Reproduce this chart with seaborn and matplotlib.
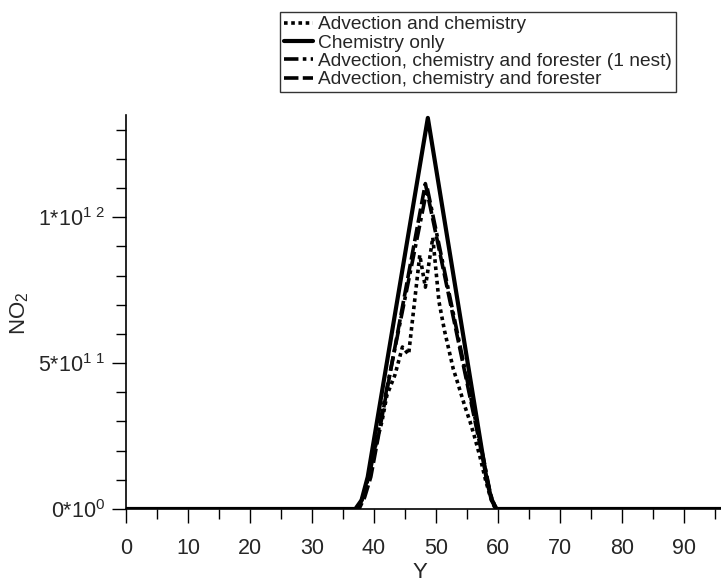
import matplotlib
matplotlib.use("Agg")
import matplotlib.pyplot as plt
import seaborn as sns
import numpy as np
import pandas as pd

# values in units of 1e12
y_adv = [0, 37.3, 38.3, 39.3, 40.3, 41.3, 42.1, 43.4, 44.6, 45.6, 46.5, 47.4, 48.3, 49.5,
         50.5, 51.4, 52.8, 53.4, 54.7, 55.5, 56.2, 57.1, 58.0, 58.8, 59.6, 96]
no2_adv = [0, 0, 0.04, 0.13, 0.22, 0.30, 0.39, 0.46, 0.555, 0.53, 0.70, 0.87, 0.76, 0.93,
           0.71, 0.61, 0.48, 0.44, 0.35, 0.30, 0.25, 0.18, 0.10, 0.04, 0, 0]

y_chem = [0, 37.0, 38.0, 39.0, 48.7, 58.2, 59.0, 59.8, 96]
no2_chem = [0, 0, 0.03, 0.11, 1.34, 0.10, 0.03, 0, 0]

y_nest = [0, 37.4, 38.4, 39.4, 48.6, 57.8, 58.8, 59.7, 96]
no2_nest = [0, 0, 0.05, 0.13, 1.10, 0.16, 0.05, 0, 0]

y_for = [0, 37.6, 38.5, 39.5, 48.3, 57.9, 58.8, 59.6, 96]
no2_for = [0, 0, 0.04, 0.11, 1.115, 0.14, 0.05, 0, 0]

names = ["Advection and chemistry", "Chemistry only",
         "Advection, chemistry and forester (1 nest)", "Advection, chemistry and forester"]

x_major = [0, 10, 20, 30, 40, 50, 60, 70, 80, 90]
y_major = [0, 5e11, 1e12]
y_labels = ["0*10$\\mathregular{^{0}}$", "5*10$\\mathregular{^{1\\ 1}}$",
            "1*10$\\mathregular{^{1\\ 2}}$"]

frames = []
for name, xs, vs in zip(names, [y_adv, y_chem, y_nest, y_for],
                        [no2_adv, no2_chem, no2_nest, no2_for]):
    frames.append(pd.DataFrame({"Y": xs, "NO2": np.array(vs) * 1e12, "series": name}))
df = pd.concat(frames, ignore_index=True)

sns.set_style("ticks")
plt.rcParams["font.family"] = ["Liberation Sans", "DejaVu Sans"]
plt.rcParams["mathtext.fontset"] = "custom"
plt.rcParams["mathtext.rm"] = "Liberation Sans"

fig = plt.figure(figsize=(7.21, 5.83), dpi=100)
ax = fig.add_axes([126 / 721, 74 / 583, 595 / 721, 394 / 583])

dashes = {names[0]: (1, 1), names[1]: "", names[2]: (4, 1.2, 1, 1.2), names[3]: (4, 1.2)}
sns.lineplot(data=df, x="Y", y="NO2", hue="series", style="series", hue_order=names,
             style_order=names, palette=["black"] * 4, dashes=dashes, sort=False,
             estimator=None, linewidth=2.6, ax=ax)
for ln in ax.lines:
    if ln.get_linestyle() == "-":
        ln.set_linewidth(3.0)

handles, labels = ax.get_legend_handles_labels()
ax.get_legend().remove()
leg = fig.legend(handles, labels, loc="upper left", bbox_to_anchor=(280 / 721, 1 - 12 / 583),
                 fontsize=13.8, frameon=True, fancybox=False, handlelength=1.5,
                 handletextpad=0.3, borderpad=0.2, labelspacing=0.05, borderaxespad=0)
leg.get_frame().set_edgecolor("black")
leg.get_frame().set_linewidth(1.0)

ax.set_xlim(0, 96)
ax.set_ylim(0, 1.35e12)
ax.set_xticks(x_major, [str(v) for v in x_major])
ax.set_xticks(np.arange(5, 96, 10), minor=True)
ax.set_yticks(y_major, y_labels)
ax.set_yticks(np.arange(1e11, 1.35e12, 1e11), minor=True)

ax.tick_params(axis="both", which="major", length=10, width=1, labelsize=15.5, color="black")
ax.tick_params(axis="both", which="minor", length=7, width=1, color="black")
ax.tick_params(axis="x", which="major", pad=11)
ax.tick_params(axis="y", which="major", pad=5)

ax.set_xlabel("Y", fontsize=16)
ax.set_ylabel("NO$\\mathregular{_2}$", fontsize=16)
ax.xaxis.set_label_coords(0.494, -0.135)
ax.yaxis.set_label_coords(-0.16, 0.497)

sns.despine(ax=ax)
for s in ["left", "bottom"]:
    ax.spines[s].set_linewidth(1.2)
    ax.spines[s].set_color("black")

fig.savefig("out.png", dpi=100)
